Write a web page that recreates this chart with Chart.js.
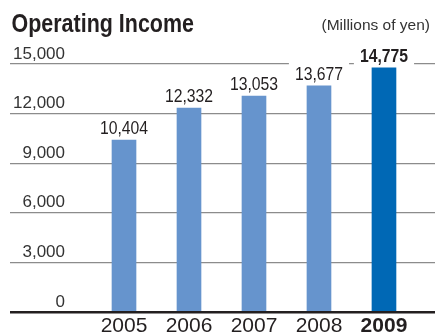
<!DOCTYPE html>
<html>
<head>
<meta charset="utf-8">
<title>Operating Income</title>
<script src="https://cdn.jsdelivr.net/npm/chart.js@4.4.1/dist/chart.umd.min.js"></script>
<style>
  html, body { margin: 0; padding: 0; background: #ffffff; }
  canvas { display: block; }
</style>
</head>
<body>
<canvas id="chart" width="435" height="335"></canvas>
<script>
(() => {
    'use strict';

    const years = [2005, 2006, 2007, 2008, 2009];
    const operatingIncome = [10404, 12332, 13053, 13677, 14775];
    const yTicks = [0, 3000, 6000, 9000, 12000, 15000];
    const highlightYear = 2009;

    const FONT = '"Liberation Sans", Arial, Helvetica, sans-serif';

    // draws text squeezed horizontally to a condensed look
    const condensedText = (ctx, text, x, y, squeeze) => {
        ctx.save();
        ctx.translate(x, y);
        ctx.scale(squeeze, 1);
        ctx.fillText(text, 0, 0);
        ctx.restore();
    };

    // heading and unit note above the plot
    const headings = {
        id: 'headings',
        afterDraw(chart) {
            const ctx = chart.ctx;
            ctx.save();
            ctx.fillStyle = '#231f20';
            ctx.textBaseline = 'alphabetic';
            ctx.font = `bold 26px ${FONT}`;
            ctx.textAlign = 'left';
            const titleWidth = ctx.measureText('Operating Income').width;
            condensedText(ctx, 'Operating Income', 11.5, 31.5, 182.5 / titleWidth);
            ctx.fillStyle = '#333333';
            ctx.font = `15.5px ${FONT}`;
            ctx.textAlign = 'right';
            ctx.fillText('(Millions of yen)', 430, 29.5);
            ctx.restore();
        },
    };

    // value above each bar, on a white patch that breaks the grid line
    const valueLabels = {
        id: 'valueLabels',
        afterDatasetsDraw(chart) {
            const ctx = chart.ctx;
            chart.getDatasetMeta(0).data.forEach((bar, index) => {
                const bold = years[index] === highlightYear;
                const text = operatingIncome[index].toLocaleString('en-US');
                const squeeze = 0.9;
                ctx.save();
                ctx.font = `${bold ? 'bold ' : ''}17.5px ${FONT}`;
                const w = ctx.measureText(text).width * squeeze;
                const base = bar.y - 6;
                ctx.fillStyle = '#ffffff';
                ctx.fillRect(bar.x - w / 2 - 6, base - 17, w + 12, 21);
                ctx.fillStyle = '#231f20';
                ctx.textAlign = 'center';
                ctx.textBaseline = 'alphabetic';
                condensedText(ctx, text, bar.x, base, squeeze);
                ctx.restore();
            });
        },
    };

    new Chart(document.getElementById('chart'), {
        type: 'bar',
        data: {
            datasets: [{
                data: years.map((year, i) => ({ x: year, y: operatingIncome[i] })),
                backgroundColor: years.map((year) => (year === highlightYear ? '#0068b5' : '#6694cd')),
                barThickness: 24,
                borderWidth: 0,
            }],
        },
        plugins: [headings, valueLabels],
        options: {
            responsive: false,
            animation: false,
            events: [],
            layout: {
                padding: { top: 64, left: 10, right: 0, bottom: 0 },
            },
            plugins: {
                legend: { display: false },
                title: { display: false },
                tooltip: { enabled: false },
            },
            scales: {
                x: {
                    type: 'linear',
                    offset: false,
                    min: 2003.246,
                    max: 2009.785,
                    afterBuildTicks: (scale) => {
                        scale.ticks = years.map((value) => ({ value }));
                    },
                    afterFit: (scale) => {
                        scale.height = 23;
                    },
                    grid: { display: false },
                    border: { display: false },
                    ticks: {
                        autoSkip: false,
                        maxRotation: 0,
                        padding: -4,
                        color: '#231f20',
                        callback: (value) => String(value),
                        font: (context) => ({
                            family: FONT,
                            size: 21,
                            lineHeight: 1,
                            weight: context.tick && context.tick.value === highlightYear ? 'bold' : 'normal',
                        }),
                    },
                },
                y: {
                    min: 0,
                    max: 15000,
                    afterBuildTicks: (scale) => {
                        scale.ticks = yTicks.map((value) => ({ value }));
                    },
                    afterFit: (scale) => {
                        scale.width = 0;
                    },
                    border: { display: false },
                    grid: {
                        drawTicks: false,
                        color: (context) => (context.tick.value === 0 ? '#231f20' : '#8c8c8c'),
                        lineWidth: (context) => (context.tick.value === 0 ? 2.5 : 1.3),
                    },
                    ticks: {
                        mirror: true,
                        crossAlign: 'far',
                        padding: 3,
                        labelOffset: -10,
                        color: '#333333',
                        font: { family: FONT, size: 17 },
                        callback: (value) => value.toLocaleString('en-US'),
                    },
                },
            },
        },
    });
})();
</script>
</body>
</html>
